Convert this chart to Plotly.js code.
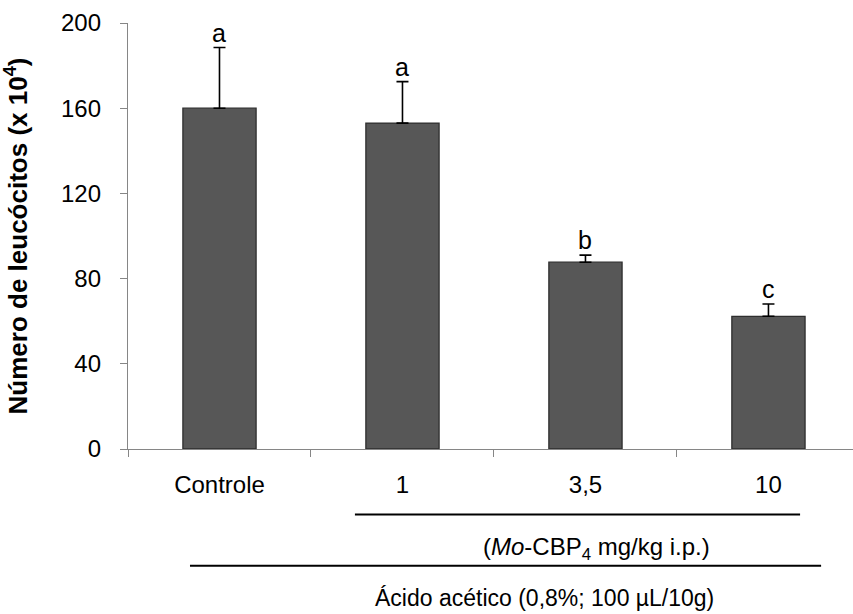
<!DOCTYPE html>
<html>
<head>
<meta charset="utf-8">
<script src="https://cdn.plot.ly/plotly-3.0.1.min.js"></script>
<style>html,body{margin:0;padding:0;overflow:hidden;background:#fff}</style>
</head>
<body>
<div id="chart" style="width:853px;height:614px"></div>
<script>
const categories = ["Controle", "1", "3,5", "10"];
const values = [160, 153, 87.7, 62.3];
const errors = [28.5, 19.5, 3.3, 5.8];
const letters = ["a", "a", "b", "c"];
const yTicks = [0, 40, 80, 120, 160, 200];

const FONT = "Liberation Sans, Arial, sans-serif";

const trace = {
  type: "bar",
  x: categories,
  y: values,
  width: 0.4,
  marker: { color: "#575757", line: { color: "#2e2e2e", width: 1.3 } },
  error_y: {
    type: "data",
    symmetric: false,
    array: errors,
    arrayminus: errors.map(() => 0),
    color: "#000000",
    thickness: 1.6,
    width: 6
  },
  hoverinfo: "skip"
};

// category index positions so that numeric-looking labels ("1", "10") are not read as indices
const annotations = categories.map((c, i) => ({
  x: i, y: values[i] + errors[i], xref: "x", yref: "y",
  text: letters[i], showarrow: false, yanchor: "bottom", yshift: -1,
  font: { family: FONT, size: 25, color: "#000" }
}));

annotations.push({
  xref: "paper", yref: "paper", x: 0.646, y: -0.234,
  text: "(<i>Mo</i>-CBP<sub>4</sub> mg/kg i.p.)", showarrow: false,
  xanchor: "center", yanchor: "middle",
  font: { family: FONT, size: 24, color: "#000" }
});
annotations.push({
  xref: "paper", yref: "paper", x: 0.575, y: -0.349,
  text: "Ácido acético (0,8%; 100 µL/10g)", showarrow: false,
  xanchor: "center", yanchor: "middle",
  font: { family: FONT, size: 23, color: "#000" }
});

const layout = {
  width: 853, height: 614,
  margin: { l: 128, r: 0, t: 23, b: 165 },
  paper_bgcolor: "#fff", plot_bgcolor: "#fff",
  showlegend: false,
  font: { family: FONT, size: 24, color: "#000" },
  xaxis: {
    type: "category",
    range: [-0.5, 3.462],
    showline: true, linecolor: "#868686", linewidth: 1.2,
    ticks: "outside", tickson: "boundaries", ticklen: 7, tickcolor: "#868686",
    showgrid: false, zeroline: false,
    tickfont: { family: FONT, size: 24, color: "#000" },
    ticklabelstandoff: 14
  },
  yaxis: {
    range: [0, 200],
    tickvals: yTicks,
    ticktext: yTicks.map(String),
    showline: true, linecolor: "#868686", linewidth: 1.2,
    ticks: "outside", ticklen: 7, tickcolor: "#868686",
    showgrid: false, zeroline: false,
    tickfont: { family: FONT, size: 24, color: "#000" },
    ticklabelstandoff: 14,
    title: {
      text: "<b>Número de leucócitos (x 10<sup>4</sup>)</b>",
      font: { family: FONT, size: 26, color: "#000" },
      standoff: 30
    }
  },
  annotations: annotations,
  shapes: [
    { type: "line", xref: "paper", yref: "paper", x0: 0.313, x1: 0.927, y0: -0.154, y1: -0.154,
      line: { color: "#000", width: 2 } },
    { type: "line", xref: "paper", yref: "paper", x0: 0.0855, x1: 0.956, y0: -0.274, y1: -0.274,
      line: { color: "#000", width: 2 } }
  ]
};

Plotly.newPlot("chart", [trace], layout, { displayModeBar: false, staticPlot: true });
</script>
</body>
</html>
